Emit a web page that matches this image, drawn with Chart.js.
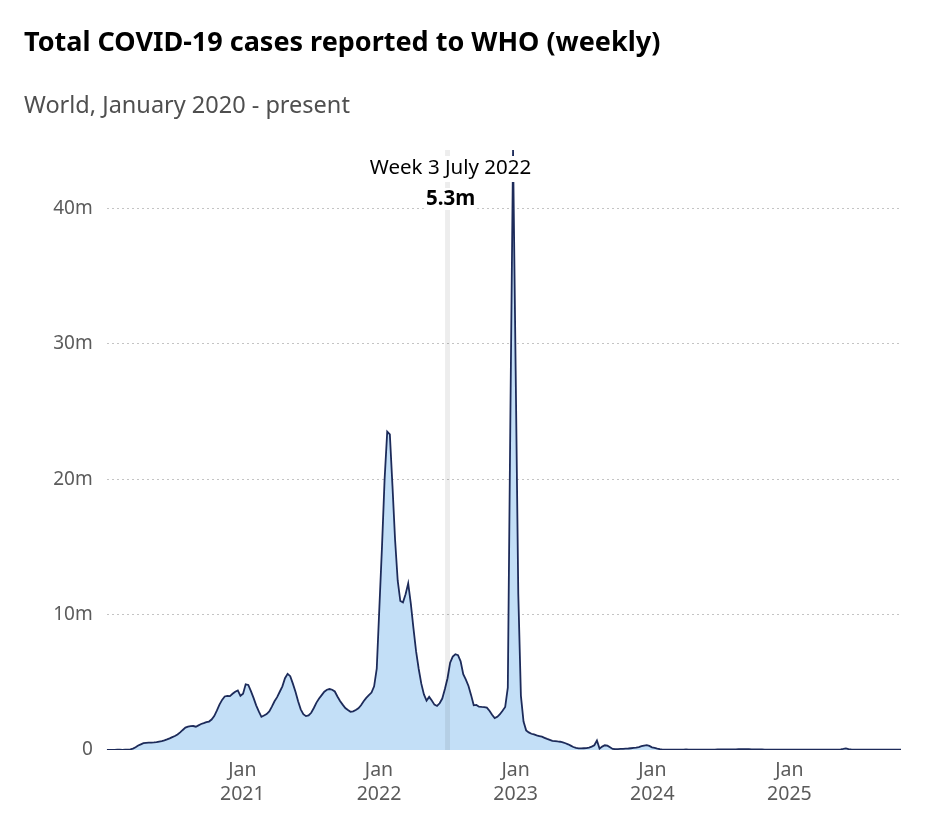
<!DOCTYPE html>
<html>
<head>
<meta charset="utf-8">
<script src="https://cdn.jsdelivr.net/npm/chart.js@4.4.1/dist/chart.umd.min.js"></script>
<style>
  html, body { margin: 0; padding: 0; background: #fff; }
  #wrap { position: relative; width: 949px; height: 840px; }
  #title { position: absolute; left: 24px; top: 25px; margin: 0; font: 700 27px/32px "Noto Sans", sans-serif; color: #000; white-space: nowrap; }
  #subtitle { position: absolute; left: 24px; top: 90px; margin: 0; font: 400 23.5px/28px "Noto Sans", sans-serif; color: #4f4f4f; white-space: nowrap; }
  #chart { position: absolute; left: 0; top: 0; }
</style>
</head>
<body>
<div id="wrap">
  <canvas id="chart" width="949" height="840"></canvas>
  <div id="title">Total COVID-19 cases reported to WHO (weekly)</div>
  <div id="subtitle">World, January 2020 - present</div>
</div>
<script>
// first week in the series, then one value per week (millions of cases)
var firstWeek = '2020-01-05';
var weeklyCases = [
  0, 0.005, 0.01, 0.01, 0.02, 0.02, 0.01, 0.02, 0.03, 0.05,
  0.1, 0.2, 0.33, 0.42, 0.5, 0.53, 0.54, 0.55, 0.56, 0.58,
  0.62, 0.66, 0.71, 0.78, 0.86, 0.95, 1.03, 1.15, 1.3, 1.48,
  1.65, 1.72, 1.76, 1.77, 1.72, 1.82, 1.92, 1.98, 2.05, 2.1,
  2.25, 2.5, 2.9, 3.35, 3.7, 3.95, 4.0, 3.98, 4.15, 4.3,
  4.4, 4.0, 4.15, 4.85, 4.8, 4.35, 3.85, 3.3, 2.85, 2.45,
  2.55, 2.65, 2.85, 3.2, 3.6, 3.9, 4.3, 4.7, 5.3, 5.62,
  5.45, 4.9, 4.3, 3.6, 3.0, 2.65, 2.5, 2.55, 2.75, 3.1,
  3.5, 3.8, 4.05, 4.3, 4.45, 4.5, 4.45, 4.32, 3.95, 3.62,
  3.35, 3.1, 2.95, 2.82, 2.85, 2.95, 3.08, 3.3, 3.6, 3.85,
  4.05, 4.24, 4.7, 6.0, 10.5, 15.0, 20.0, 23.5, 23.3, 19.5,
  15.5, 12.5, 11.0, 10.9, 11.5, 12.3, 10.8, 9.0, 7.3, 6.0,
  4.9, 4.1, 3.65, 3.92, 3.65, 3.35, 3.25, 3.45, 3.8, 4.5,
  5.3, 6.45, 6.9, 7.07, 7.0, 6.55, 5.6, 5.2, 4.73, 4.05,
  3.3, 3.33, 3.2, 3.18, 3.17, 3.13, 2.9, 2.6, 2.35, 2.45,
  2.64, 2.9, 3.18, 4.6, 25.0, 44.3, 28.0, 11.5, 4.0, 2.1,
  1.45, 1.3, 1.2, 1.15, 1.08, 1.03, 0.98, 0.9, 0.82, 0.75,
  0.68, 0.66, 0.63, 0.61, 0.57, 0.5, 0.42, 0.32, 0.22, 0.15,
  0.12, 0.12, 0.13, 0.14, 0.18, 0.25, 0.35, 0.7, 0.1, 0.25,
  0.35, 0.32, 0.2, 0.08, 0.06, 0.07, 0.08, 0.08, 0.1, 0.11,
  0.13, 0.15, 0.17, 0.22, 0.28, 0.33, 0.36, 0.3, 0.2, 0.15,
  0.1, 0.06, 0.03, 0.02, 0.02, 0.02, 0.02, 0.02, 0.02, 0.02,
  0.03, 0.05, 0.03, 0.02, 0.02, 0.02, 0.02, 0.03, 0.03, 0.03,
  0.03, 0.03, 0.03, 0.04, 0.04, 0.04, 0.04, 0.05, 0.05, 0.05,
  0.05, 0.06, 0.06, 0.06, 0.06, 0.06, 0.05, 0.05, 0.04, 0.04,
  0.04, 0.03, 0.03, 0.03, 0.03, 0.03, 0.03, 0.03, 0.03, 0.03,
  0.03, 0.03, 0.02, 0.02, 0.02, 0.02, 0.02, 0.02, 0.02, 0.02,
  0.02, 0.02, 0.02, 0.02, 0.02, 0.02, 0.02, 0.02, 0.02, 0.03,
  0.05, 0.08, 0.12, 0.06, 0.04, 0.03, 0.03, 0.03, 0.02, 0.02,
  0.02, 0.02, 0.02, 0.02, 0.02, 0.02, 0.02, 0.02, 0.02, 0.02,
  0.02, 0.02, 0.02, 0.02
];
var yearTicks = [2021, 2022, 2023, 2024, 2025];
var caseTicks = [0, 10, 20, 30, 40];
var hoverWeek = 130; // week of 3 July 2022

var DAY = 86400000;
var months = ['January', 'February', 'March', 'April', 'May', 'June', 'July', 'August', 'September', 'October', 'November', 'December'];
var start = Date.parse(firstWeek);
var weekDates = weeklyCases.map(function (v, i) { return start + i * 7 * DAY; });
var points = weeklyCases.map(function (v, i) { return { x: weekDates[i], y: v }; });

function fmtCases(v) { return v === 0 ? '0' : v + 'm'; }

var hoverMarker = {
  id: 'hoverMarker',
  afterDatasetsDraw: function (chart) {
    var ctx = chart.ctx, area = chart.chartArea;
    var x = chart.scales.x.getPixelForValue(weekDates[hoverWeek]);
    ctx.save();
    ctx.fillStyle = 'rgba(0,0,0,0.07)';
    ctx.fillRect(x - 2.5, area.top, 5, area.bottom - area.top);

    var d = new Date(weekDates[hoverWeek]);
    var line1 = 'Week ' + d.getUTCDate() + ' ' + months[d.getUTCMonth()] + ' ' + d.getUTCFullYear();
    var line2 = weeklyCases[hoverWeek].toFixed(1) + 'm';
    var cx = x + 3;
    ctx.textAlign = 'center';
    ctx.textBaseline = 'middle';

    ctx.font = '20.5px "Noto Sans"';
    var w1 = ctx.measureText(line1).width;
    ctx.fillStyle = '#fff';
    ctx.fillRect(cx - w1 / 2 - 2, 156, w1 + 4, 26);
    ctx.fillStyle = '#000';
    ctx.fillText(line1, cx, 168);

    ctx.font = 'bold 20.5px "Noto Sans"';
    var w2 = ctx.measureText(line2).width;
    ctx.fillStyle = '#fff';
    ctx.fillRect(cx - w2 / 2 - 2, 188, w2 + 4, 22);
    ctx.fillStyle = '#000';
    ctx.fillText(line2, cx, 199);
    ctx.restore();
  }
};

new Chart(document.getElementById('chart'), {
  type: 'line',
  data: {
    datasets: [{
      data: points,
      borderColor: '#1d2b5a',
      borderWidth: 1.8,
      backgroundColor: '#c3dff7',
      fill: 'origin',
      pointRadius: 0,
      tension: 0
    }]
  },
  options: {
    responsive: false,
    animation: false,
    layout: { padding: { left: 0, right: 48, top: 150, bottom: 0 } },
    plugins: { legend: { display: false }, tooltip: { enabled: false } },
    scales: {
      x: {
        type: 'linear',
        min: weekDates[0],
        max: weekDates[weekDates.length - 1],
        grid: { display: false },
        border: { display: false },
        afterBuildTicks: function (scale) {
          scale.ticks = yearTicks.map(function (y) { return { value: Date.UTC(y, 0, 1) }; });
        },
        afterFit: function (scale) { scale.height = 90; },
        ticks: {
          autoSkip: false,
          maxRotation: 0,
          padding: 0,
          color: '#5b5b5b',
          font: { family: 'Noto Sans', size: 19.5, lineHeight: 1.23 },
          callback: function (v) { return ['Jan', String(new Date(v).getUTCFullYear())]; }
        }
      },
      y: {
        min: 0,
        max: Math.max.apply(null, weeklyCases),
        border: { display: false, dash: [2, 3] },
        grid: {
          drawTicks: false,
          color: function (c) { return c.tick && c.tick.value === 0 ? 'rgba(0,0,0,0)' : '#c4c4c4'; },
          lineWidth: 1
        },
        afterBuildTicks: function (scale) {
          scale.ticks = caseTicks.map(function (v) { return { value: v }; });
        },
        afterFit: function (scale) { scale.width = 106.75; },
        ticks: {
          padding: 14,
          color: '#5b5b5b',
          font: { family: 'Noto Sans', size: 19 },
          callback: fmtCases
        }
      }
    }
  },
  plugins: [hoverMarker]
});
</script>
</body>
</html>
